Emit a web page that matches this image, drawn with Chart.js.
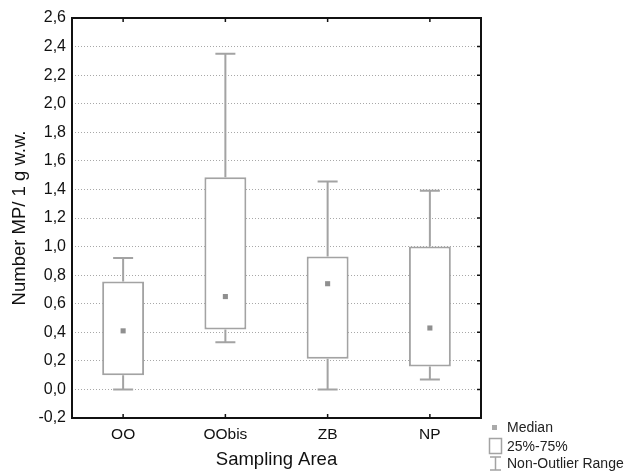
<!DOCTYPE html>
<html>
<head>
<meta charset="utf-8">
<title>Number MP per sampling area</title>
<script src="https://cdn.jsdelivr.net/npm/chart.js@4.4.1/dist/chart.umd.min.js"></script>
<style>
  html, body { margin: 0; padding: 0; background: #fff; }
  #box { width: 627px; height: 472px; }
</style>
</head>
<body>
<div id="box"><canvas id="chart" width="627" height="472"></canvas></div>
<script>
// data
var categories = ['OO', 'OObis', 'ZB', 'NP'];
var medians = [0.41, 0.65, 0.74, 0.43];
var q1 = [0.10, 0.42, 0.215, 0.16];
var q3 = [0.755, 1.485, 0.93, 1.00];
var mins = [0.0, 0.33, 0.0, 0.07];
var maxs = [0.92, 2.35, 1.455, 1.39];
var yTicks = [-0.2, 0, 0.2, 0.4, 0.6, 0.8, 1.0, 1.2, 1.4, 1.6, 1.8, 2.0, 2.2, 2.4, 2.6];

var boxColor = '#a3a3a3';
var medianColor = '#8f8f8f';
var fontFam = '"Liberation Sans", Arial, sans-serif';

function fmt(v) {
  return v.toFixed(1).replace('.', ',');
}

var boxes = [];
for (var i = 0; i < categories.length; i++) {
  boxes.push([q1[i], q3[i]]);
}

// whiskers + frame + inward tick marks
var boxPlugin = {
  id: 'boxPlugin',
  beforeDatasetsDraw: function (chart) {
    var ctx = chart.ctx;
    var xs = chart.scales.x, ys = chart.scales.y;
    ctx.save();
    ctx.strokeStyle = boxColor;
    ctx.lineWidth = 2;
    for (var i = 0; i < categories.length; i++) {
      var x = xs.getPixelForValue(i);
      var cap = 10;
      ctx.beginPath();
      ctx.moveTo(x, ys.getPixelForValue(q3[i]));
      ctx.lineTo(x, ys.getPixelForValue(maxs[i]));
      ctx.moveTo(x - cap, ys.getPixelForValue(maxs[i]));
      ctx.lineTo(x + cap, ys.getPixelForValue(maxs[i]));
      ctx.moveTo(x, ys.getPixelForValue(q1[i]));
      ctx.lineTo(x, ys.getPixelForValue(mins[i]));
      ctx.moveTo(x - cap, ys.getPixelForValue(mins[i]));
      ctx.lineTo(x + cap, ys.getPixelForValue(mins[i]));
      ctx.stroke();
    }
    ctx.restore();
  },
  afterDraw: function (chart) {
    var ctx = chart.ctx;
    var a = chart.chartArea;
    var xs = chart.scales.x, ys = chart.scales.y;
    ctx.save();
    ctx.strokeStyle = '#111';
    ctx.lineWidth = 2;
    ctx.strokeRect(a.left, a.top, a.right - a.left, a.bottom - a.top);
    ctx.lineWidth = 1.5;
    ctx.beginPath();
    for (var i = 0; i < categories.length; i++) {
      var x = xs.getPixelForValue(i);
      ctx.moveTo(x, a.bottom);
      ctx.lineTo(x, a.bottom - 4);
      ctx.moveTo(x, a.top);
      ctx.lineTo(x, a.top + 4);
    }
    for (var j = 1; j < yTicks.length - 1; j++) {
      var y = ys.getPixelForValue(yTicks[j]);
      ctx.moveTo(a.right, y);
      ctx.lineTo(a.right - 4, y);
    }
    ctx.stroke();

    // legend, bottom right
    var lx = 489, tx = 507;
    ctx.fillStyle = '#aaa';
    ctx.fillRect(lx + 3, 425, 5, 5);
    ctx.strokeStyle = boxColor;
    ctx.lineWidth = 1.5;
    ctx.strokeRect(lx + 0.5, 438.5, 12, 15);
    ctx.beginPath();
    ctx.moveTo(lx + 1, 457); ctx.lineTo(lx + 12, 457);
    ctx.moveTo(lx + 6.5, 457); ctx.lineTo(lx + 6.5, 470);
    ctx.moveTo(lx + 1, 470); ctx.lineTo(lx + 12, 470);
    ctx.stroke();
    ctx.fillStyle = '#222';
    ctx.font = '14px ' + fontFam;
    ctx.textBaseline = 'middle';
    ctx.fillText('Median', tx, 428);
    ctx.fillText('25%-75%', tx, 447);
    ctx.fillText('Non-Outlier Range', tx, 464);
    ctx.restore();
  }
};

new Chart(document.getElementById('chart'), {
  data: {
    labels: categories,
    datasets: [
      {
        type: 'line',
        label: 'Median',
        data: medians,
        showLine: false,
        pointStyle: 'rect',
        pointRadius: 3.6,
        pointBorderWidth: 0,
        pointBackgroundColor: medianColor,
        pointBorderColor: medianColor,
        order: 0
      },
      {
        type: 'bar',
        label: '25%-75%',
        data: boxes,
        backgroundColor: '#fff',
        borderColor: boxColor,
        borderWidth: 2,
        borderSkipped: false,
        barPercentage: 0.41,
        categoryPercentage: 1,
        order: 1
      }
    ]
  },
  options: {
    responsive: false,
    animation: false,
    layout: { padding: { left: 0, top: 18, right: 146, bottom: 0 } },
    plugins: {
      legend: { display: false },
      tooltip: { enabled: false }
    },
    scales: {
      x: {
        type: 'category',
        offset: true,
        grid: { display: false, drawTicks: false },
        border: { display: false },
        ticks: { color: '#111', padding: 7, font: { family: fontFam, size: 15.5 } },
        title: {
          display: true,
          text: 'Sampling Area',
          color: '#111',
          padding: { top: 0, bottom: 1 },
          font: { family: fontFam, size: 18.5 }
        },
        afterFit: function (s) { s.height = 54; }
      },
      y: {
        type: 'linear',
        min: -0.2,
        max: 2.6,
        afterBuildTicks: function (s) {
          s.ticks = yTicks.map(function (v) { return { value: v }; });
        },
        grid: {
          drawTicks: false,
          color: function (c) {
            var v = c.tick ? c.tick.value : 0;
            if (Math.abs(v - (-0.2)) < 1e-6 || Math.abs(v - 2.6) < 1e-6) return 'rgba(0,0,0,0)';
            return '#a8a8a8';
          },
          lineWidth: 1
        },
        border: { display: false, dash: [1, 2] },
        ticks: {
          color: '#111',
          padding: 6,
          font: { family: fontFam, size: 16 },
          callback: function (v) { return fmt(v); }
        },
        title: {
          display: true,
          text: 'Number MP/ 1 g w.w.',
          color: '#111',
          padding: { top: 9, bottom: 0 },
          font: { family: fontFam, size: 18.5 }
        },
        afterFit: function (s) { s.width = 72; }
      }
    }
  },
  plugins: [boxPlugin]
});
</script>
</body>
</html>
